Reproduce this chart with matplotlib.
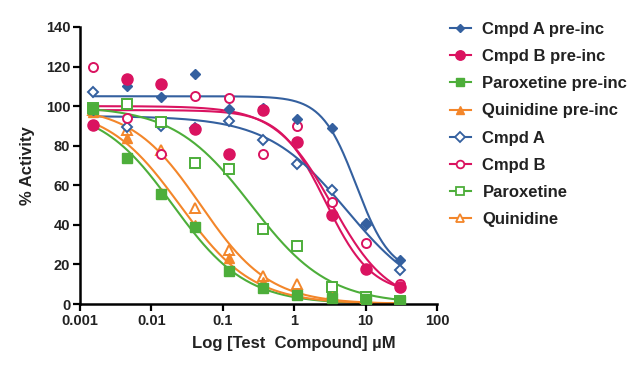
import numpy as np
import matplotlib
matplotlib.use("Agg")
import matplotlib.pyplot as plt
from matplotlib.ticker import FixedLocator, NullLocator

plt.rcParams['font.family'] = ['Liberation Sans', 'DejaVu Sans']

conc = [0.00152, 0.00457, 0.0137, 0.0412, 0.123, 0.370, 1.11, 3.33, 10.0, 30.0]

series_names = ["Cmpd A pre-inc", "Cmpd B pre-inc", "Paroxetine pre-inc", "Quinidine pre-inc",
                "Cmpd A", "Cmpd B", "Paroxetine", "Quinidine"]

cmpdA_pre = [98, 110, 104.5, 116, 98.7, 99, 93.6, 89, 41, 22]
cmpdB_pre = [90.5, 113.5, 111, 88.6, 76, 98, 82, 45, 17.7, 8.6]
parox_pre = [98.5, 74, 55.5, 39, 16.5, 8, 4.5, 3, 2.5, 1.5]
quin_pre = [97, 84, 56, 40, 23.5, 11, 5.5, 3.5, 2, 1]
cmpdA = [107, 89.6, 90, 89, 92.5, 83, 71, 57.6, 40, 17]
cmpdB = [120, 94, 76, 105, 104, 76, 90, 51.5, 30.8, 10]
parox = [99, 101, 92, 71.5, 68, 37.7, 29.5, 8.6, 3.5, 1.5]
quin = [98, 88, 78, 48.5, 27.5, 14, 10, 5, 3, 1]

# fitted 4PL parameters: top, bottom, IC50 (uM), Hill slope
fit_top = [105, 98, 100, 100, 95, 100, 100, 100]
fit_bottom = [15, 5, 0, 0, 0, 0, 0, 0]
fit_ic50 = [7.4, 2.76, 0.02, 0.025, 5.4, 3.4, 0.25, 0.049]
fit_hill = [1.8, 1.35, 0.85, 0.85, 0.78, 1.1, 0.8, 0.9]

values = [cmpdA_pre, cmpdB_pre, parox_pre, quin_pre, cmpdA, cmpdB, parox, quin]

blue = '#34609F'
pink = '#DA1360'
green = '#4DAE3A'
orange = '#F3862A'
colors = [blue, pink, green, orange, blue, pink, green, orange]
markers = ['D', 'o', 's', '^', 'D', 'o', 's', '^']
msizes = [5.0, 8.0, 7.0, 7.0, 5.5, 6.5, 6.8, 7.0]
filled = [True, True, True, True, False, False, False, False]

fig = plt.figure(figsize=(6.42, 3.67), dpi=100)
ax = fig.add_axes([80/642, 1-304/367, (437-80)/642, (304-27)/367])

xs = np.logspace(np.log10(conc[0]), np.log10(conc[-1]), 300)
for i in range(8):
    t, b, ic, h = fit_top[i], fit_bottom[i], fit_ic50[i], fit_hill[i]
    ys = b + (t - b) / (1 + (xs / ic) ** h)
    ax.plot(xs, ys, color=colors[i], lw=1.5, zorder=2)

order = [7, 4, 5, 6, 3, 0, 1, 2]
for k, i in enumerate(order):
    if filled[i]:
        ax.plot(conc, values[i], linestyle='none', marker=markers[i], ms=msizes[i],
                mfc=colors[i], mec=colors[i], mew=1.0, zorder=3 + k * 0.01)
    else:
        ax.plot(conc, values[i], linestyle='none', marker=markers[i], ms=msizes[i],
                mfc='white', mec=colors[i], mew=1.4, zorder=3 + k * 0.01)

# legend handles
handles = []
for i in range(8):
    h, = ax.plot([], [], color=colors[i], lw=1.5, marker=markers[i],
                 ms=msizes[i] * 0.85,
                 mfc=colors[i] if filled[i] else 'white', mec=colors[i],
                 mew=1.0 if filled[i] else 1.3)
    handles.append(h)

leg = fig.legend(handles, series_names, loc='upper left',
                 bbox_to_anchor=(450/642, 1-22/367), frameon=False,
                 borderpad=0, borderaxespad=0, handlelength=1.25, handletextpad=0.7,
                 labelspacing=0.73, prop={'size': 12, 'weight': 'bold'})
for txt in leg.get_texts():
    txt.set_color('#222222')

ax.set_xscale('log')
ax.set_xlim(0.001, 100)
ax.set_ylim(0, 140)
ax.xaxis.set_major_locator(FixedLocator([0.001, 0.01, 0.1, 1, 10, 100]))
ax.xaxis.set_minor_locator(NullLocator())
ax.set_xticklabels(['0.001', '0.01', '0.1', '1', '10', '100'])
ax.set_yticks([0, 20, 40, 60, 80, 100, 120, 140])

for s in ['top', 'right']:
    ax.spines[s].set_visible(False)
for s in ['left', 'bottom']:
    ax.spines[s].set_linewidth(1.8)
    ax.spines[s].set_color('black')
ax.tick_params(axis='both', which='major', direction='out', length=5, width=1.6,
               labelsize=10.5, colors='black', pad=2)
for lab in ax.get_xticklabels() + ax.get_yticklabels():
    lab.set_fontweight('bold')
    lab.set_color('#222222')

ax.set_xlabel('Log [Test  Compound] \u00b5M', fontsize=12, fontweight='bold', color='#222222', labelpad=6)
ax.xaxis.set_label_coords((294 - 80) / (437 - 80), -0.115)
ax.set_ylabel('% Activity', fontsize=12, fontweight='bold', color='#222222', labelpad=8)

fig.savefig('out.png', dpi=100)
